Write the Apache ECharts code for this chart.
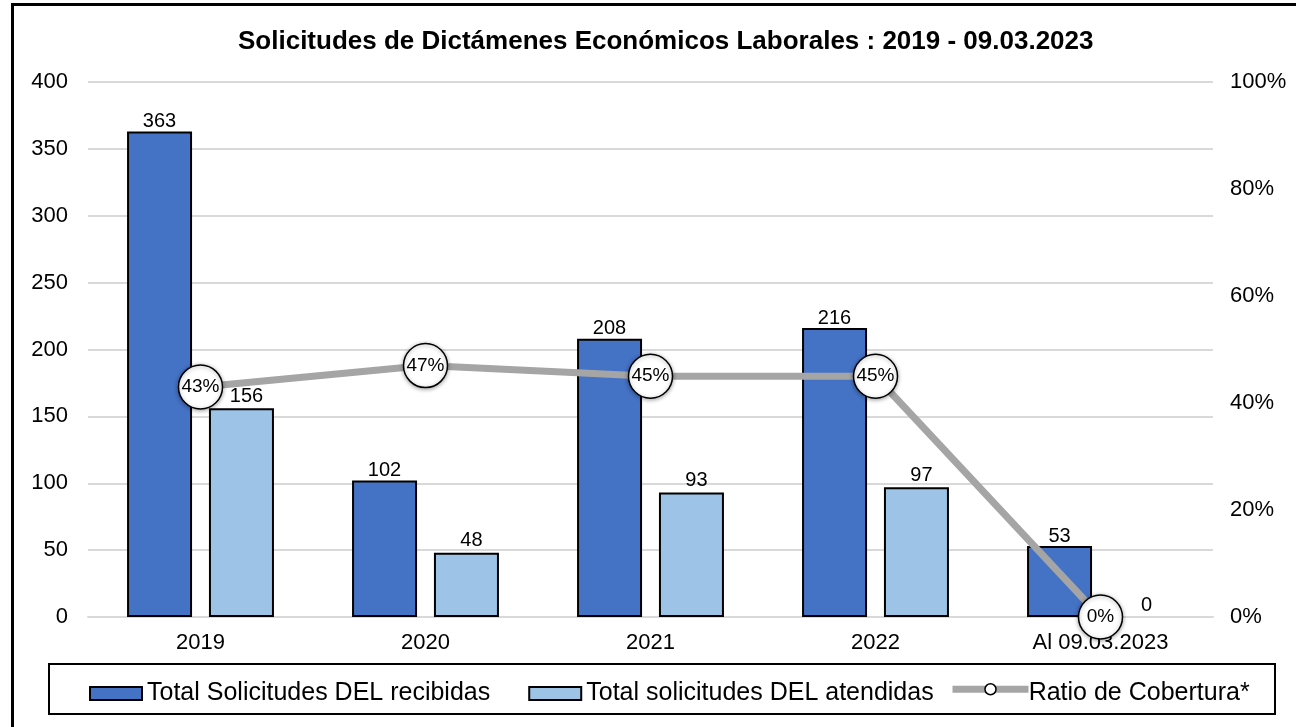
<!DOCTYPE html>
<html>
<head>
<meta charset="utf-8">
<script src="https://cdn.jsdelivr.net/npm/echarts@6/dist/echarts.min.js"></script>
<style>
  html, body { margin: 0; padding: 0; background: #fff; }
  #chart { width: 1296px; height: 727px; }
  .frame { position: absolute; left: 11px; top: 3px; width: 1300px; height: 740px;
           border-top: 3px solid #000; border-left: 3px solid #000; pointer-events: none; }
</style>
</head>
<body>
<div id="chart"></div>
<div class="frame"></div>
<script>
// chart data
const categories = ['2019', '2020', '2021', '2022', 'Al 09.03.2023'];
const recibidas = [363, 102, 208, 216, 53];
const atendidas = [156, 48, 93, 97, 0];
const ratio = [0.43, 0.47, 0.45, 0.45, 0];

const font = 'Liberation Sans, Arial, sans-serif';

let myChart = echarts.init(document.getElementById('chart'));
let option = {
  backgroundColor: '#fff',
  animation: false,
  title: {
    text: 'Solicitudes de Dictámenes Económicos Laborales : 2019 - 09.03.2023',
    left: 233,
    top: 24,
    textStyle: { fontFamily: font, fontSize: 26, fontWeight: 'bold', color: '#000' }
  },
  grid: { left: 88, right: 83, top: 82, bottom: 110 },
  legend: {
    left: 84,
    top: 676,
    icon: 'rect',
    itemWidth: 52,
    itemHeight: 13,
    itemGap: 38,
    textStyle: { fontFamily: font, fontSize: 25, color: '#000' },
    data: [
      { name: 'Total Solicitudes DEL recibidas', itemStyle: { borderColor: '#000', borderWidth: 2 } },
      { name: 'Total solicitudes DEL atendidas', itemStyle: { borderColor: '#000', borderWidth: 2 } },
      { name: 'Ratio de Cobertura*', icon: 'none' }
    ]
  },
  graphic: [{
    type: 'rect',
    shape: { x: 49, y: 664, width: 1226, height: 50 },
    style: { fill: 'none', stroke: '#000', lineWidth: 2 },
    z: -1
  }, {
    // legend key for the ratio line
    type: 'group',
    left: 949,
    top: 683,
    children: [{
      type: 'line',
      shape: { x1: 0, y1: 6, x2: 76, y2: 6 },
      style: { stroke: '#a5a5a5', lineWidth: 7 }
    }, {
      type: 'circle',
      shape: { cx: 38, cy: 6, r: 5.5 },
      style: { fill: '#fff', stroke: '#000', lineWidth: 1.5 }
    }]
  }],
  xAxis: {
    type: 'category',
    data: categories,
    axisLine: { show: true, lineStyle: { color: '#d9d9d9', width: 2 } },
    axisTick: { show: false },
    axisLabel: { fontFamily: font, fontSize: 22, color: '#000', margin: 15 }
  },
  yAxis: [{
    type: 'value',
    min: 0, max: 400, interval: 50,
    axisLine: { show: false },
    axisTick: { show: false },
    axisLabel: { fontFamily: font, fontSize: 22, color: '#000', margin: 20 },
    splitLine: { lineStyle: { color: '#d9d9d9', width: 2 } }
  }, {
    type: 'value',
    min: 0, max: 1, interval: 0.2,
    axisLine: { show: false },
    axisTick: { show: false },
    splitLine: { show: false },
    axisLabel: {
      fontFamily: font, fontSize: 22, color: '#000', margin: 17,
      formatter: v => Math.round(v * 100) + '%'
    }
  }],
  series: [{
    name: 'Total Solicitudes DEL recibidas',
    type: 'bar',
    data: recibidas,
    barWidth: 65,
    barGap: '26%',
    itemStyle: { color: '#4472c4', borderColor: '#000', borderWidth: 2 },
    label: { show: true, position: 'top', distance: 0, fontFamily: font, fontSize: 20, color: '#000' }
  }, {
    name: 'Total solicitudes DEL atendidas',
    type: 'bar',
    data: atendidas.map(v => ({ value: v, itemStyle: v === 0 ? { borderWidth: 0 } : undefined })),
    barWidth: 65,
    itemStyle: { color: '#9dc3e6', borderColor: '#000', borderWidth: 2 },
    label: { show: true, position: 'top', distance: 2, offset: [5, 0],
             fontFamily: font, fontSize: 20, color: '#000' }
  }, {
    name: 'Ratio de Cobertura*',
    type: 'line',
    yAxisIndex: 1,
    data: ratio,
    symbol: 'circle',
    symbolSize: 44,
    lineStyle: { color: '#a5a5a5', width: 7 },
    itemStyle: { color: '#fff', borderColor: '#000', borderWidth: 1.5,
                 shadowColor: 'rgba(0,0,0,0.35)', shadowBlur: 4, shadowOffsetY: 1 },
    label: {
      show: true, position: 'inside', fontFamily: font, fontSize: 19, color: '#000',
      formatter: p => Math.round(p.value * 100) + '%'
    },
    z: 5
  }]
};
myChart.setOption(option);
</script>
</body>
</html>
